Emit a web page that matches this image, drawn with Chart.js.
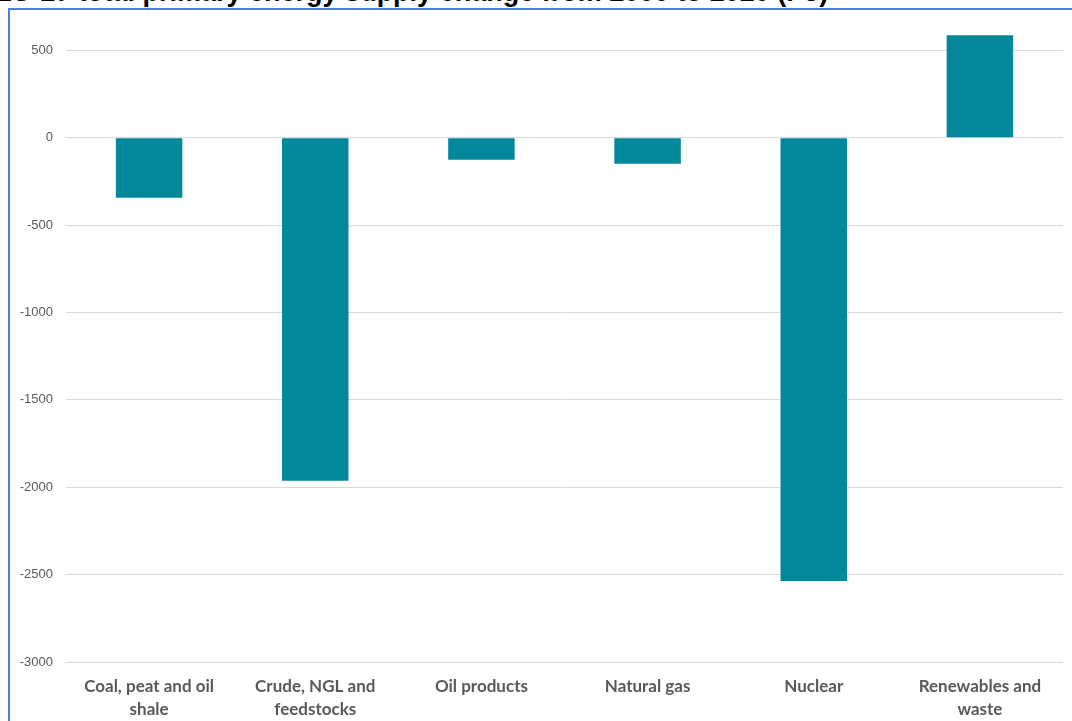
<!DOCTYPE html>
<html>
<head>
<meta charset="utf-8">
<script src="https://cdn.jsdelivr.net/npm/chart.js@4.4.1/dist/chart.umd.min.js"></script>
<style>
  html, body { margin: 0; padding: 0; background: #fff; }
  #wrap { position: relative; width: 1072px; height: 721px; overflow: hidden; }
  #frame {
    position: absolute; left: 8px; top: 8px; width: 1100px; height: 760px;
    border-left: 2px solid #4f7fd1; border-top: 2px solid #4f7fd1;
  }
  #title {
    position: absolute; left: -6px; top: -23px; white-space: nowrap;
    font: bold 27px 'Liberation Sans', Arial, sans-serif; color: #000;
  }
  #chart { position: absolute; left: 0; top: 0; }
</style>
</head>
<body>
<div id="wrap">
  <div id="frame"></div>
  <div id="title">EU-27 total primary energy supply change from 2000 to 2020 (PJ)</div>
  <canvas id="chart" width="1072" height="721"></canvas>
</div>
<script>
// =============================================
// primary energy supply change by fuel (PJ)
// =============================================

const categories = [
  ['Coal, peat and oil', 'shale'],
  ['Crude, NGL and', 'feedstocks'],
  'Oil products',
  'Natural gas',
  'Nuclear',
  ['Renewables and', 'waste']
];
const changePJ = [-343, -1962, -126, -149, -2537, 587];

const yTicks = [-3000, -2500, -2000, -1500, -1000, -500, 0, 500];
const axisMin = -3000;
const axisMax = 600;

Chart.defaults.font.family = "'Liberation Sans', Arial, sans-serif";
Chart.defaults.color = '#595959';

new Chart(document.getElementById('chart'), {
  type: 'bar',
  data: {
    labels: categories,
    datasets: [{
      label: 'Change (PJ)',
      data: changePJ,
      backgroundColor: '#02879b',
      borderWidth: 0,
      barPercentage: 0.4,
      categoryPercentage: 1.0,
    }]
  },
  options: {
    responsive: false,
    animation: false,
    layout: { padding: { left: 0, right: 9, top: 33, bottom: 0 } },
    plugins: {
      legend: { display: false },
      tooltip: { enabled: false }
    },
    scales: {
      x: {
        grid: { display: false, drawTicks: false },
        border: { display: false },
        ticks: {
          color: '#595959',
          padding: 13,
          maxRotation: 0,
          autoSkip: false,
          font: { family: "Lato, 'Liberation Sans', sans-serif", size: 17, weight: 'bold', lineHeight: 1.35 }
        },
        afterFit: (scale) => { scale.height = 59; }
      },
      y: {
        min: axisMin,
        max: axisMax,
        grid: { color: '#d9d9d9', lineWidth: 1, drawTicks: false },
        border: { display: false },
        ticks: {
          padding: 13,
          color: '#595959',
          font: { size: 13 },
          callback: (v) => String(v)
        },
        // fixed 500-step ticks; the top of the range gets no line
        afterBuildTicks: (scale) => {
          scale.ticks = yTicks.map(v => ({ value: v }));
        },
        afterFit: (scale) => { scale.width = 66; }
      }
    }
  }
});
</script>
</body>
</html>
